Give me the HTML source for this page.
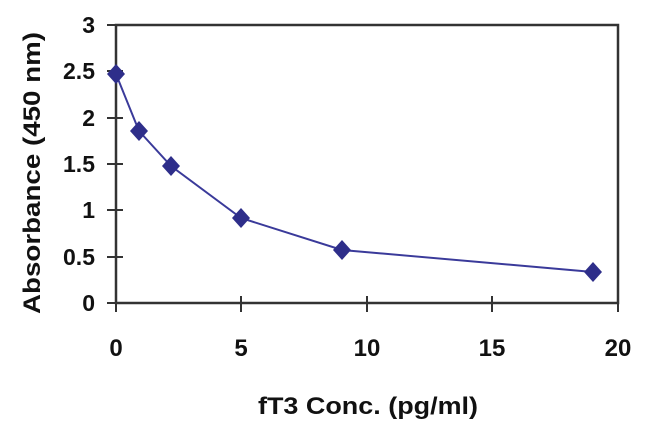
<!DOCTYPE html>
<html><head><style>body{margin:0;background:#fff}</style></head><body>
<svg width="650" height="431" xmlns="http://www.w3.org/2000/svg" style="font-family:'Liberation Sans',Arial,sans-serif;font-weight:bold">
<rect x="116" y="25" width="502" height="278" fill="none" stroke="#333" stroke-width="2.5"/>
<g stroke="#333" stroke-width="2">
<line x1="107" y1="25" x2="116" y2="25"/><line x1="107" y1="71" x2="123" y2="71"/><line x1="107" y1="118" x2="123" y2="118"/><line x1="107" y1="164" x2="123" y2="164"/><line x1="107" y1="210" x2="123" y2="210"/><line x1="107" y1="257" x2="123" y2="257"/><line x1="107" y1="303" x2="116" y2="303"/>
<line x1="116" y1="303" x2="116" y2="312"/><line x1="241" y1="296" x2="241" y2="312"/><line x1="367" y1="296" x2="367" y2="312"/><line x1="492" y1="296" x2="492" y2="312"/><line x1="618" y1="296" x2="618" y2="312"/>
</g>
<g font-size="23" fill="#111" text-anchor="end">
<text x="95" y="33">3</text><text x="95" y="79">2.5</text><text x="95" y="126">2</text><text x="95" y="172">1.5</text><text x="95" y="218">1</text><text x="95" y="265">0.5</text><text x="95" y="311">0</text>
</g>
<g font-size="24" fill="#111" text-anchor="middle">
<text x="116" y="356">0</text><text x="241" y="356">5</text><text x="367" y="356">10</text><text x="492" y="356">15</text><text x="618" y="356">20</text>
</g>
<g font-size="24" fill="#111">
<text x="258" y="414" textLength="220" lengthAdjust="spacingAndGlyphs">fT3 Conc. (pg/ml)</text>
<text transform="translate(40,314) rotate(-90)" textLength="282" lengthAdjust="spacingAndGlyphs">Absorbance (450 nm)</text>
</g>
<polyline fill="none" stroke="#3a3a9a" stroke-width="2" points="116,74 139,131 171,166 241,218 342,250 593,272"/>
<g fill="#2e2e8a">
<path d="M116,64l9,10l-9,10l-9,-10z"/><path d="M139,121l9,10l-9,10l-9,-10z"/><path d="M171,156l9,10l-9,10l-9,-10z"/><path d="M241,208l9,10l-9,10l-9,-10z"/><path d="M342,240l9,10l-9,10l-9,-10z"/><path d="M593,262l9,10l-9,10l-9,-10z"/>
</g>
</svg>
</body></html>
